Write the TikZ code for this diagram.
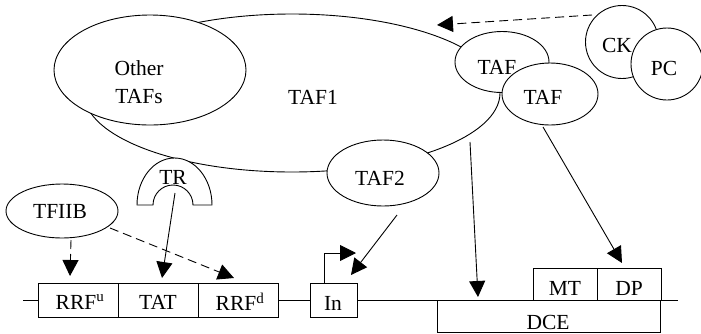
\documentclass[tikz,border=0pt]{standalone}
\usepackage{fontspec}
\setmainfont{Liberation Serif}
\usetikzlibrary{arrows.meta,shapes.geometric}
\begin{document}
\begin{tikzpicture}[x=1pt,y=-1pt,
  ell/.style={draw, ellipse, fill=white, inner sep=0pt, line width=0.9pt},
  circ/.style={draw, circle, fill=white, inner sep=0pt, line width=0.9pt},
  lbl/.style={font=\fontsize{21.5}{25}\selectfont, inner sep=0pt},
  boxn/.style={draw, rectangle, fill=white, inner sep=0pt, line width=0.9pt},
  arr/.style={line width=0.9pt, -{Triangle[length=16pt,width=16pt]}},
  darr/.style={arr, dash pattern=on 9pt off 5pt},
  plain/.style={line width=0.9pt},
]
\useasboundingbox (0,0) rectangle (701,333);

% big TAF1 ellipse and the ones overlapping it
\node[ell, minimum width=416pt, minimum height=158pt] (taf1) at (292,93) {};
\node[lbl] (taf1t) at (313,97) {TAF1};
\node[ell, minimum width=192pt, minimum height=110pt] (other) at (150,70) {};
\node[lbl] (othert1) at (139,68) {Other};
\node[lbl] (othert2) at (139,97) {TAFs};
\node[ell, minimum width=94pt, minimum height=61pt] (tafa) at (502,62) {};
\node[lbl] (tafat) at (497,67) {TAF};
\node[ell, minimum width=96pt, minimum height=62pt] (tafb) at (550,94) {};
\node[lbl] (tafbt) at (543,97) {TAF};
\node[ell, minimum width=112pt, minimum height=66pt] (taf2) at (383,173) {};
\node[lbl] (taf2t) at (380,178) {TAF2};

% CK and PC
\node[circ, minimum size=73pt] (ck) at (622,42) {};
\node[circ, minimum size=72pt] (pc) at (667,64) {};
\node[lbl] (ckt) at (617,45) {CK};
\node[lbl] (pct) at (664,68) {PC};

% TR horseshoe
\filldraw[plain, fill=white] (137,205) arc[start angle=180, end angle=0, x radius=37.5pt, y radius=47pt]
  -- (193,205) arc[start angle=0, end angle=180, radius=20pt] -- cycle;
\node[lbl] (trt) at (173,177) {TR};
\coordinate (trA) at (175,193);

% TFIIB
\node[ell, minimum width=112pt, minimum height=54pt] (tfiib) at (62,211) {};
\node[lbl] (tfiibt) at (60,211) {TFIIB};

% bottom row
\node[boxn, minimum width=80pt, minimum height=34pt] (rrfu) at (78,300) {};
\node[boxn, minimum width=80pt, minimum height=34pt] (tat) at (158,300) {};
\node[boxn, minimum width=80pt, minimum height=34pt] (rrfd) at (238,300) {};
\node[boxn, minimum width=47pt, minimum height=34pt] (inb) at (333.5,300) {};
\node[boxn, minimum width=223pt, minimum height=32pt] (dce) at (548.5,316) {};
\node[boxn, minimum width=64pt, minimum height=32pt] (mt) at (565,284) {};
\node[boxn, minimum width=64pt, minimum height=32pt] (dp) at (629,284) {};
\node[lbl] (rrfut) at (80,302) {RRF\textsuperscript{u}};
\node[lbl] (tatt) at (158,302) {TAT};
\node[lbl] (rrfdt) at (240,302) {RRF\textsuperscript{d}};
\node[lbl] (int) at (333,303) {In};
\node[lbl] (mtt) at (565,288) {MT};
\node[lbl] (dpt) at (629,288) {DP};
\node[lbl] (dcet) at (548,322) {DCE};

\coordinate (lineL) at (23,300);
\coordinate (lineR) at (678,300);
\draw[plain] (lineL) -- (rrfu.west);
\draw[plain] (rrfd.east) -- (inb.west);
\draw[plain] (inb.east) -- (lineR);

% arrows
\coordinate (ckS) at (592,15);
\coordinate (ckE) at (437,25);
\draw[darr] (ckS) -- (ckE);

\coordinate (tfS) at (71,240);
\coordinate (tfE) at (70,276);
\draw[darr] (tfS) -- (tfE);

\coordinate (tfS2) at (110,228);
\coordinate (tfE2) at (234,278);
\draw[darr] (tfS2) -- (tfE2);

\coordinate (trE) at (162,278);
\draw[arr] (trA) -- (trE);

\coordinate (inS) at (324,283);
\coordinate (inM) at (324,253);
\coordinate (inE) at (356,253);
\draw[arr] (inS) -- (inM) -- (inE);

\coordinate (t2S) at (397,215);
\coordinate (t2E) at (351,275);
\draw[arr] (t2S) -- (t2E);

\coordinate (t1S) at (470,142);
\coordinate (t1E) at (478,297);
\draw[arr] (t1S) -- (t1E);

\coordinate (tbS) at (543,127);
\coordinate (tbE) at (622,263);
\draw[arr] (tbS) -- (tbE);
\end{tikzpicture}
\end{document}
